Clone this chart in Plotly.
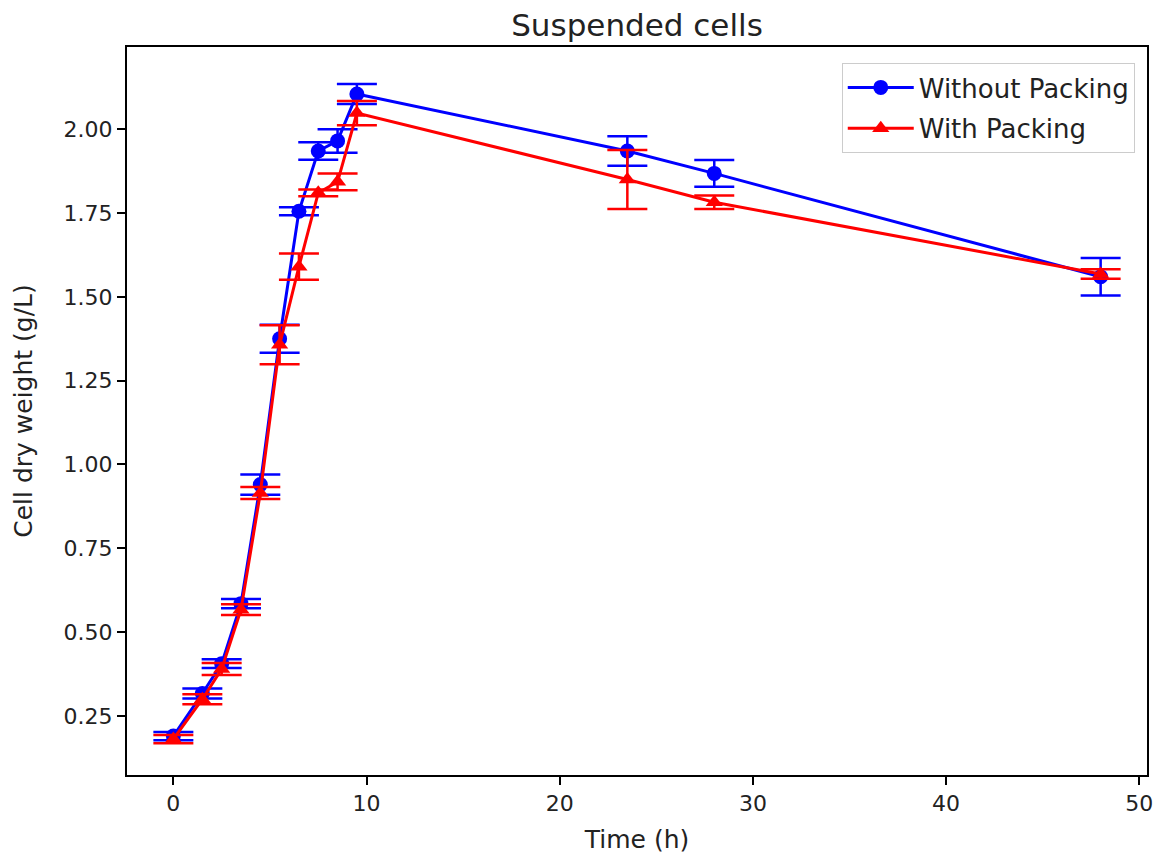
import plotly.graph_objects as go

time_h = [0, 1.5, 2.5, 3.5, 4.5, 5.5, 6.5, 7.5, 8.5, 9.5, 23.5, 28, 48]

cdw_without = [0.19, 0.317, 0.406, 0.585, 0.94, 1.375, 1.755, 1.935, 1.965, 2.105, 1.935, 1.868, 1.56]
err_without = [0.012, 0.015, 0.013, 0.014, 0.03, 0.042, 0.012, 0.026, 0.035, 0.03, 0.044, 0.04, 0.056]

cdw_with = [0.181, 0.30, 0.39, 0.567, 0.915, 1.357, 1.59, 1.81, 1.843, 2.048, 1.85, 1.782, 1.568]
err_with = [0.012, 0.015, 0.018, 0.016, 0.018, 0.058, 0.039, 0.01, 0.025, 0.036, 0.088, 0.02, 0.014]

series_names = ["Without Packing", "With Packing"]

fig = go.Figure()
fig.add_trace(go.Scatter(
    x=time_h, y=cdw_without, name=series_names[0], mode="lines+markers", legendgroup="a",
    line=dict(color="#0000ff", width=3),
    marker=dict(symbol="circle", size=15, color="#0000ff"),
    error_y=dict(type="data", array=err_without, visible=True, color="#0000ff", thickness=2.5, width=20),
))
fig.add_trace(go.Scatter(
    x=time_h, y=cdw_with, name=series_names[1], mode="lines+markers", legendgroup="b",
    line=dict(color="#ff0000", width=3),
    marker=dict(symbol="triangle-up", size=15, color="#ff0000"),
    error_y=dict(type="data", array=err_with, visible=True, color="#ff0000", thickness=2.5, width=20),
))

axis_common = dict(
    showline=True, linecolor="black", linewidth=2, mirror=True,
    ticks="outside", ticklen=8, tickwidth=2, tickcolor="black",
    showgrid=False, zeroline=False, automargin=False,
    tickfont=dict(family="DejaVu Sans", size=22, color="#222222"),
)

fig.update_layout(
    width=1159, height=854,
    margin=dict(l=127, r=12, t=47, b=79, autoexpand=False),
    paper_bgcolor="white", plot_bgcolor="white",
    font=dict(family="DejaVu Sans", color="black"),
    title=dict(text="Suspended cells", x=0.5, xref="paper", xanchor="center",
               y=1 - 25 / 854, yref="container", yanchor="middle",
               font=dict(family="DejaVu Sans", size=31, color="#222222")),
    xaxis=dict(range=[-2.4, 50.4], tickvals=[0, 10, 20, 30, 40, 50],
               title=dict(text="Time (h)", font=dict(family="DejaVu Sans", size=25, color="#222222"), standoff=20),
               **axis_common),
    yaxis=dict(range=[0.074, 2.245], tickvals=[0.25, 0.5, 0.75, 1.0, 1.25, 1.5, 1.75, 2.0],
               tickformat=".2f",
               title=dict(text="Cell dry weight (g/L)", font=dict(family="DejaVu Sans", size=25, color="#222222"), standoff=24),
               **axis_common),
    legend=dict(x=0.988, y=0.978, xanchor="right", yanchor="top",
                bgcolor="white", bordercolor="#cccccc", borderwidth=1,
                itemwidth=66, tracegroupgap=4,
                font=dict(family="DejaVu Sans", size=26, color="#222222")),
    showlegend=True,
)

fig.write_html("out.html", config={"displayModeBar": False},
               post_script="document.body.style.margin='0px';document.body.style.padding='0px';")
